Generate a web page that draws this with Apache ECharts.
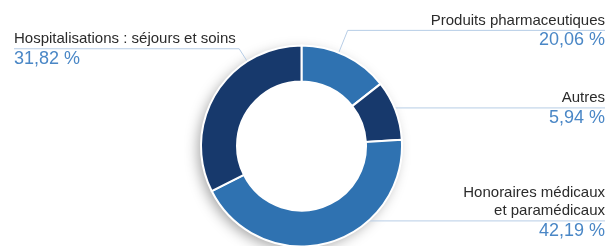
<!DOCTYPE html>
<html>
<head>
<meta charset="utf-8">
<script src="https://cdn.jsdelivr.net/npm/echarts@6/dist/echarts.min.js"></script>
<style>
  html, body { margin: 0; padding: 0; background: #fff; }
  #main { width: 616px; height: 246px; }
</style>
</head>
<body>
<div id="main"></div>
<script>
// postes, dans le sens des aiguilles d'une montre à partir de midi
var categories = ['Produits pharmaceutiques', 'Autres', 'Honoraires médicaux\net paramédicaux', 'Hospitalisations : séjours et soins'];
var shares = [14.4, 9.6, 43.6, 32.4];
// pourcentages écrits à côté
var percents = ['20,06 %', '5,94 %', '42,19 %', '31,82 %'];

var colors = ['#2f72b1', '#17396c', '#2f72b1', '#17396c'];
// point de départ du trait dans le secteur (0 = début, 1 = fin) et longueur du 1er segment
var anchorAt = [0.42, 0.46, 0.33, 0.72];
var legLength = [24, 0, 0, 15];

var myChart = echarts.init(document.getElementById('main'));
var W = 616;

function layoutLabel(params) {
    var i = params.dataIndex;
    var data = myChart.getModel().getSeriesByIndex(params.seriesIndex).getData();
    var l = data.getItemLayout(i);
    var a = l.startAngle + (l.endAngle - l.startAngle) * anchorAt[i];
    var ax = l.cx + l.r * Math.cos(a);
    var ay = l.cy + l.r * Math.sin(a);
    var kx = ax + legLength[i] * Math.cos(a);
    var ky = ay + legLength[i] * Math.sin(a);
    var isRight = Math.cos(a) > 0;
    var edge = isRight ? W - 11 : 14;
    var rows = categories[i].split('\n').length;
    return {
        x: edge,
        y: ky - rows * 18 - 1,
        align: isRight ? 'right' : 'left',
        verticalAlign: 'top',
        labelLinePoints: [[ax, ay], [kx, ky], [edge, ky]]
    };
}

var pieData = [];
for (var i = 0; i < categories.length; i++) {
    pieData.push({ name: categories[i], value: shares[i], itemStyle: { color: colors[i] } });
}

var option = {
    animation: false,
    series: [
        {
            // disque blanc dessous, juste pour l'ombre
            type: 'pie',
            silent: true,
            z: 1,
            center: [301.5, 146],
            radius: [0, 99],
            label: { show: false },
            labelLine: { show: false },
            itemStyle: {
                color: '#fff',
                shadowBlur: 14,
                shadowColor: 'rgba(0,0,0,0.38)',
                shadowOffsetX: -4,
                shadowOffsetY: 4
            },
            data: [{ value: 1 }]
        },
        {
            type: 'pie',
            z: 2,
            center: [301.5, 146],
            radius: [64.5, 100.5],
            startAngle: 90,
            clockwise: true,
            avoidLabelOverlap: false,
            itemStyle: { borderColor: '#fff', borderWidth: 2 },
            emphasis: { disabled: true },
            label: {
                show: true,
                position: 'outside',
                formatter: function (p) {
                    return '{n|' + p.name.split('\n').join('}\n{n|') + '}\n{p|' + percents[p.dataIndex] + '}';
                },
                rich: {
                    n: { fontFamily: 'Liberation Sans', fontSize: 15, lineHeight: 18, color: '#2b2b2b' },
                    p: { fontFamily: 'Liberation Sans', fontSize: 18, lineHeight: 22, color: '#4a87c6' }
                }
            },
            labelLine: {
                show: true,
                length: 10,
                length2: 10,
                smooth: false,
                lineStyle: { color: '#b7cde6', width: 1 }
            },
            labelLayout: layoutLabel,
            data: pieData
        }
    ]
};

myChart.setOption(option);
</script>
</body>
</html>
